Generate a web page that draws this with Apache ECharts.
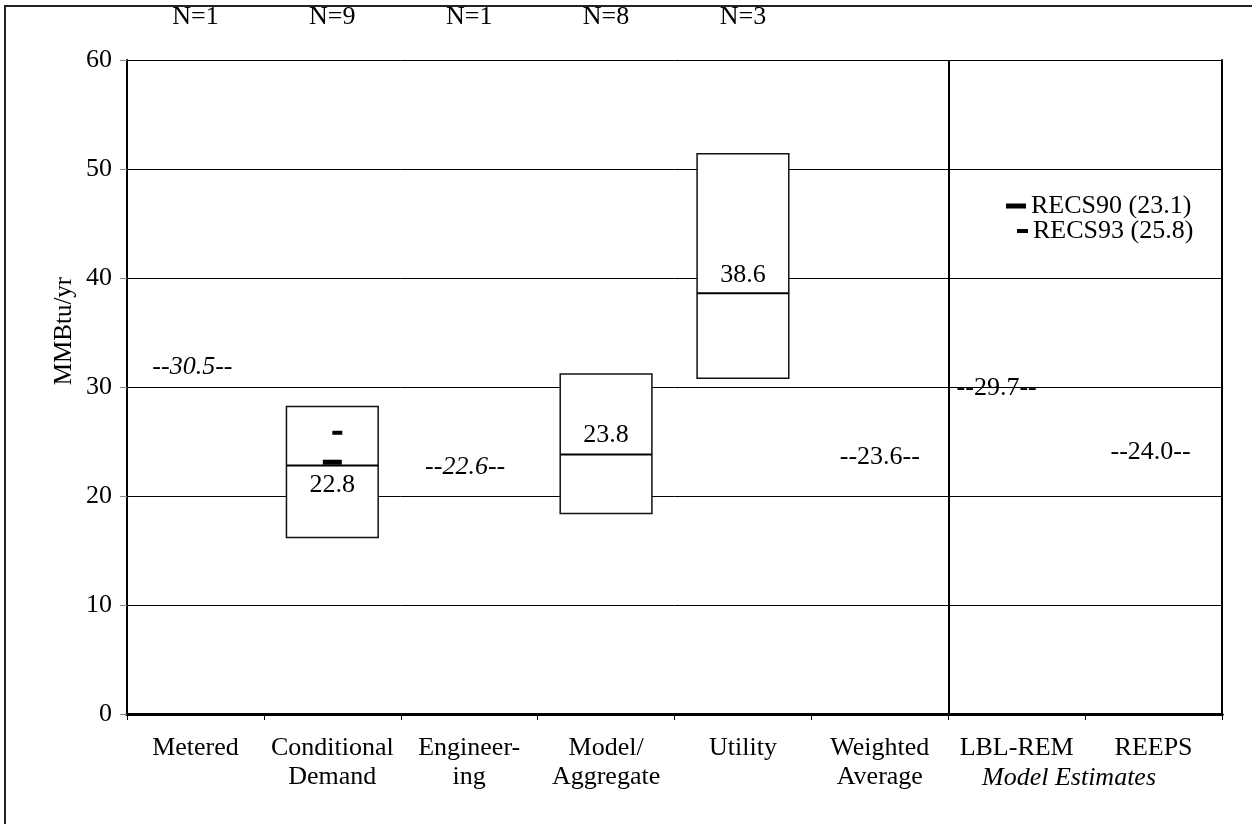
<!DOCTYPE html>
<html>
<head>
<meta charset="utf-8">
<script src="https://cdn.jsdelivr.net/npm/echarts@6/dist/echarts.min.js"></script>
<style>
html,body{margin:0;padding:0;background:#fff;}
#chart{width:1252px;height:824px;}
</style>
</head>
<body>
<div id="chart"></div>
<script>
// ---- data ----
const categories = ['Metered', 'Conditional\nDemand', 'Engineer-\ning', 'Model/\nAggregate', 'Utility', 'Weighted\nAverage', 'LBL-REM', 'REEPS'];
const nLabels = ['N=1', 'N=9', 'N=1', 'N=8', 'N=3', '', '', ''];
const yTicks = [0, 10, 20, 30, 40, 50, 60];

const boxCategory = ['Conditional\nDemand', 'Model/\nAggregate', 'Utility'];
const boxLow = [16.2, 18.4, 30.8];
const boxHigh = [28.2, 31.2, 51.4];
const boxMedian = [22.8, 23.8, 38.6];

const pointCategory = ['Metered', 'Engineer-\ning', 'Weighted\nAverage', 'LBL-REM', 'REEPS'];
const pointValue = [30.5, 22.6, 23.6, 29.7, 24.0];
const pointItalic = [true, true, false, false, false];

const recs90 = { category: 'Conditional\nDemand', value: 23.1, name: 'RECS90 (23.1)' };
const recs93 = { category: 'Conditional\nDemand', value: 25.8, name: 'RECS93 (25.8)' };

const FONT = '"Liberation Serif", "Times New Roman", serif';
const FS = 26;

const chart = echarts.init(document.getElementById('chart'), null, { renderer: 'canvas' });

const boxData = boxCategory.map((c, i) => [c, boxLow[i], boxHigh[i], boxMedian[i]]);
const medianLabelOffset = [20, -19, -18];

const pointOffsets = [[-3, -14], [-4, 0], [0, 0], [-20, -2], [-3, 0]];
const pointData = pointCategory.map((c, i) => ({
  value: [c, pointValue[i]],
  label: {
    show: true,
    position: 'inside',
    offset: pointOffsets[i],
    formatter: '--' + pointValue[i].toFixed(1) + '--',
    fontStyle: pointItalic[i] ? 'italic' : 'normal',
    fontFamily: FONT,
    fontSize: FS,
    color: '#000',
    opacity: 1
  }
}));

const option = {
  animation: false,
  backgroundColor: '#fff',
  textStyle: { fontFamily: FONT },
  grid: { left: 127, right: 30, top: 60, bottom: 110, containLabel: false },
  legend: [
    {
      data: [recs90.name], left: 1001, top: 188, icon: 'rect',
      itemWidth: 20, itemHeight: 5, itemGap: 0,
      itemStyle: { color: '#000', opacity: 1 },
      textStyle: { fontFamily: FONT, fontSize: FS, color: '#000' }
    },
    {
      data: [recs93.name], left: 1012, top: 213, icon: 'rect',
      itemWidth: 11, itemHeight: 4, itemGap: 0,
      itemStyle: { color: '#000', opacity: 1 },
      textStyle: { fontFamily: FONT, fontSize: FS, color: '#000' }
    }
  ],
  xAxis: [
    {
      type: 'category', data: categories, position: 'bottom', boundaryGap: true,
      axisLine: { show: true, lineStyle: { color: '#000', width: 3 } },
      axisTick: { show: true, interval: 0, length: 6, lineStyle: { color: '#000', width: 1 } },
      axisLabel: { interval: 0, margin: 20, fontFamily: FONT, fontSize: FS, color: '#000', lineHeight: 29 },
      splitLine: { show: false }
    },
    {
      type: 'category', data: nLabels, position: 'top', boundaryGap: true,
      axisLine: { show: true, lineStyle: { color: '#000', width: 3 } },
      axisTick: { show: false },
      axisLabel: { interval: 0, margin: 30, fontFamily: FONT, fontSize: FS, color: '#000' },
      splitLine: { show: false }
    },
    { type: 'value', min: 0, max: categories.length, show: false }
  ],
  yAxis: [
    {
      type: 'value', min: yTicks[0], max: yTicks[yTicks.length - 1], interval: 10,
      axisLine: { show: true, lineStyle: { color: '#000', width: 2 } },
      axisTick: { show: true, length: 7, lineStyle: { color: '#888', width: 1 } },
      axisLabel: { margin: 15, fontFamily: FONT, fontSize: FS, color: '#000' },
      splitLine: { show: true, lineStyle: { color: '#000', width: 1 } }
    },
    {
      type: 'value', min: 0, max: 60, position: 'right',
      axisLine: { show: true, lineStyle: { color: '#000', width: 2 } },
      axisTick: { show: false }, axisLabel: { show: false }, splitLine: { show: false }
    }
  ],
  graphic: [
    {
      type: 'rect', z: -1, silent: true,
      shape: { x: 5, y: 6, width: 1400, height: 1000 },
      style: { fill: 'none', stroke: '#222', lineWidth: 2 }
    },
    {
      type: 'text', x: 64, y: 331, rotation: Math.PI / 2,
      style: {
        text: 'MMBtu/yr', fontFamily: FONT, fontSize: 25, fill: '#000',
        textAlign: 'center', textVerticalAlign: 'middle'
      }
    },
    {
      type: 'text', x: 1069, y: 778,
      style: {
        text: 'Model Estimates', fontFamily: FONT, fontSize: FS, fontStyle: 'italic', fill: '#000',
        textAlign: 'center', textVerticalAlign: 'middle'
      }
    }
  ],
  series: [
    {
      type: 'custom', name: 'ranges', xAxisIndex: 0, yAxisIndex: 0, z: 3,
      data: boxData,
      renderItem: function (params, api) {
        const xc = api.value(0);
        const lo = api.coord([xc, api.value(1)]);
        const hi = api.coord([xc, api.value(2)]);
        const md = api.coord([xc, api.value(3)]);
        const w = api.size([1, 0])[0] * 0.67;
        const x0 = lo[0] - w / 2;
        return {
          type: 'group',
          children: [
            {
              type: 'rect',
              shape: { x: x0, y: hi[1], width: w, height: lo[1] - hi[1] },
              style: { fill: '#fff', stroke: '#111', lineWidth: 1.5 }
            },
            {
              type: 'line',
              shape: { x1: x0, y1: md[1], x2: x0 + w, y2: md[1] },
              style: { stroke: '#000', lineWidth: 2 }
            },
            {
              type: 'text',
              x: md[0], y: md[1] + medianLabelOffset[params.dataIndex],
              style: {
                text: api.value(3).toFixed(1), fontFamily: FONT, fontSize: FS, fill: '#000',
                textAlign: 'center', textVerticalAlign: 'middle'
              }
            }
          ]
        };
      }
    },
    {
      type: 'scatter', name: recs90.name, xAxisIndex: 0, yAxisIndex: 0, z: 5,
      symbol: 'rect', symbolSize: [19, 5],
      itemStyle: { color: '#000', opacity: 1 },
      data: [[recs90.category, recs90.value]]
    },
    {
      type: 'scatter', name: recs93.name, xAxisIndex: 0, yAxisIndex: 0, z: 5,
      symbol: 'rect', symbolSize: [10, 4], symbolOffset: [5, 0],
      itemStyle: { color: '#000', opacity: 1 },
      data: [[recs93.category, recs93.value]]
    },
    {
      type: 'scatter', name: 'estimates', xAxisIndex: 0, yAxisIndex: 0, z: 4,
      symbolSize: 0,
      itemStyle: { opacity: 1 },
      data: pointData
    },
    {
      type: 'scatter', name: 'divider', xAxisIndex: 2, yAxisIndex: 0,
      data: [],
      markLine: {
        silent: true, symbol: 'none', label: { show: false },
        lineStyle: { color: '#000', width: 2, type: 'solid', opacity: 1 },
        data: [{ xAxis: 6 }]
      }
    }
  ]
};

chart.setOption(option);
</script>
</body>
</html>
